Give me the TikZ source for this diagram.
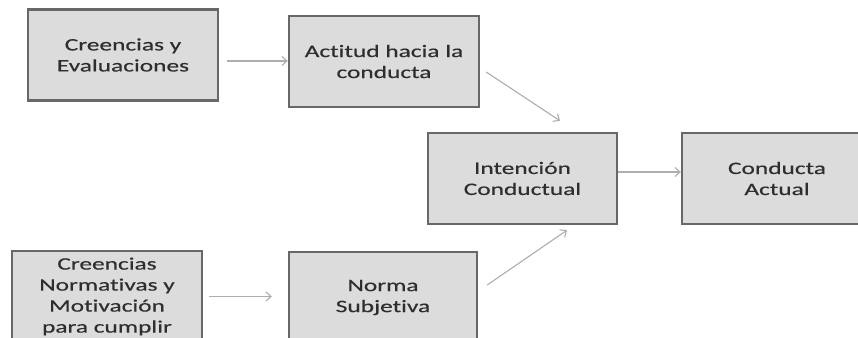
\documentclass[tikz,border=0pt]{standalone}
\usepackage{fontspec}
\setmainfont[FakeStretch=1.45,FakeBold=0.4,Ligatures={NoCommon}]{Carlito}
\usetikzlibrary{arrows.meta}
\definecolor{boxfill}{HTML}{DCDCDC}
\definecolor{boxline}{HTML}{686868}
\definecolor{arrline}{HTML}{AEAEAE}
\definecolor{txt}{HTML}{2E2E2E}
\tikzset{
  box/.style={draw=boxline, line width=2.4pt, fill=boxfill, inner sep=0pt,
    minimum width=190pt, minimum height=91pt, align=center, text=txt,
    font=\fontsize{17.5pt}{21pt}\selectfont},
  arr/.style={draw=arrline, line width=1.1pt,
    -{Straight Barb[length=5pt,width=9pt,line width=1.1pt]}}
}
\begin{document}
\begin{tikzpicture}[x=1pt,y=-1pt]
\useasboundingbox (0,0) rectangle (858,337);
\clip (0,0) rectangle (858,337);
\fill[white] (0,0) rectangle (858,337);
\node[box] (b1) at (123,55) {Creencias y\\Evaluaciones};
\node[box] (b2) at (384,61.5) {Actitud hacia la\\conducta};
\node[box, minimum width=189pt] (b3) at (522.5,178.5) {Intención\\Conductual};
\node[box] (b4) at (777,178.5) {Conducta\\Actual};
\node[box] (b5) at (107,296.5) {Creencias\\Normativas y\\Motivación\\para cumplir};
\node[box, minimum width=188pt] (b6) at (383,297.5) {Norma\\Subjetiva};
\draw[arr] ([xshift=8pt,yshift=-6pt]b1.east) coordinate (s1) -- (s1 -| b2.west);
\draw[arr] ([xshift=6pt,yshift=-10.5pt]b2.east) -- ([xshift=37.5pt,yshift=11pt]b3.north);
\draw[arr] ([yshift=6.5pt]b3.east) coordinate (s3) -- (s3 -| b4.west);
\draw[arr] ([xshift=6pt]b5.east) coordinate (s5) -- ([xshift=-16pt]s5 -| b6.west);
\draw[arr] ([xshift=9pt,yshift=12.5pt]b6.east) -- ([xshift=44.5pt,yshift=-5pt]b3.south);
\end{tikzpicture}
\end{document}
